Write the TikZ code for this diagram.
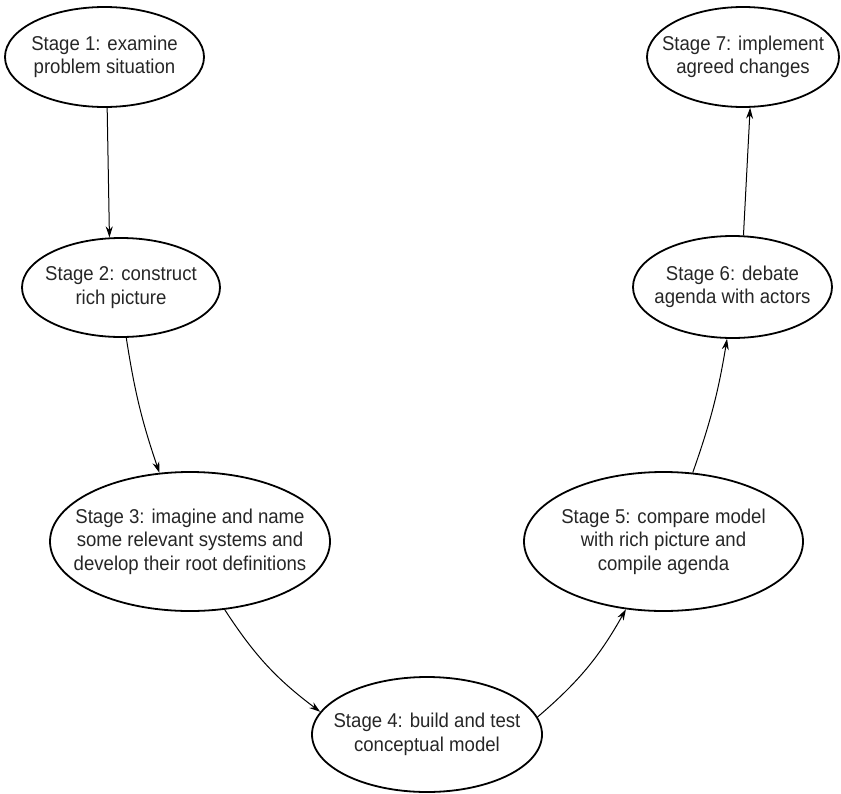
\documentclass[tikz,border=0pt]{standalone}
\usepackage{fontspec}
\setmainfont{Liberation Sans}[FakeStretch=0.93]
\usetikzlibrary{arrows.meta,shapes.geometric}

\begin{document}
\begin{tikzpicture}[x=0.5pt, y=-0.5pt,
		stage/.style={ellipse, draw, line width=0.9pt, inner sep=0pt},
		stagetext/.style={align=center, inner sep=0pt, font=\fontsize{10}{11.75}\selectfont, text=black!85},
		flow/.style={line width=0.5pt, -{Stealth[length=5.5pt, width=3.5pt]}}]
			%%%%% START %%%%%
			
			\useasboundingbox (0, 0) rectangle (841, 793);
			
			\node[stage, minimum width=99.5pt, minimum height=50pt] (s1) at (104.5, 57) {};
			\node[stagetext] (t1) at (s1) {Stage 1: examine\\problem situation};
			
			\node[stage, minimum width=99pt, minimum height=49.5pt] (s2) at (121, 287.5) {};
			\node[stagetext] (t2) at (s2) {Stage 2: construct\\rich picture};
			
			\node[stage, minimum width=140pt, minimum height=69.5pt] (s3) at (190, 541.5) {};
			\node[stagetext] (t3) at (s3) {Stage 3: imagine and name\\some relevant systems and\\develop their root definitions};
			
			\node[stage, minimum width=115pt, minimum height=57.5pt] (s4) at (427, 734.5) {};
			\node[stagetext] (t4) at (s4) {Stage 4: build and test\\conceptual model};
			
			\node[stage, minimum width=139.5pt, minimum height=69.5pt] (s5) at (663.5, 541.5) {};
			\node[stagetext] (t5) at (s5) {Stage 5: compare model\\with rich picture and\\compile agenda};
			
			\node[stage, minimum width=99.5pt, minimum height=51pt] (s6) at (732.5, 287) {};
			\node[stagetext] (t6) at (s6) {Stage 6: debate\\agenda with actors};
			
			\node[stage, minimum width=96pt, minimum height=50pt] (s7) at (743, 57) {};
			\node[stagetext] (t7) at (s7) {Stage 7: implement\\agreed changes};
			
			\draw[flow] (s1.273) -- (s2.103);
			\draw[flow] (s2.276) to[bend right=5] (s3.114);
			\draw[flow] (s3.297) to[bend right=10] (s4.168);
			\draw[flow] (s4.9) to[bend right=10] (s5.241);
			\draw[flow] (s5.67) to[bend right=5] (s6.264);
			\draw[flow] (s6.78) -- (s7.278);
			
			%%%%% END %%%%%
\end{tikzpicture}
\end{document}
